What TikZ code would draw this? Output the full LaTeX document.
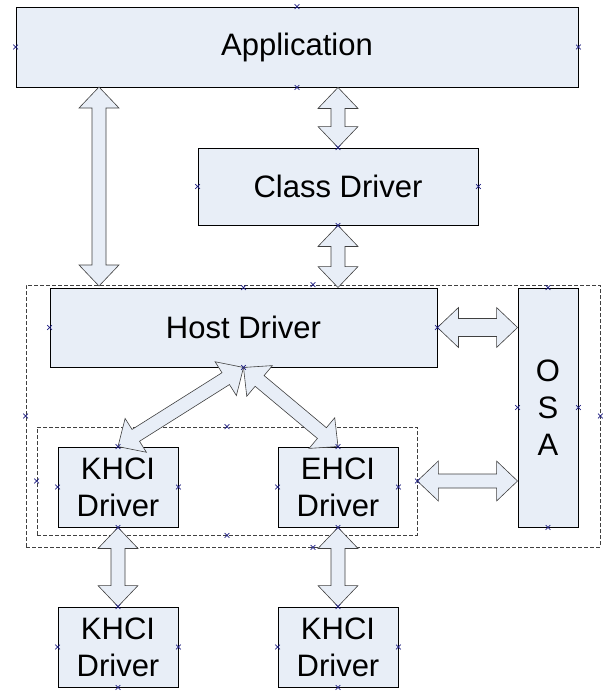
\documentclass[tikz,border=0pt]{standalone}
\usepackage{fontspec}
\setmainfont{Liberation Sans}
\usepackage{xcolor}
\usetikzlibrary{calc,shapes.misc}

\definecolor{boxfill}{RGB}{232,238,247}
\definecolor{cptblue}{RGB}{30,30,130}

\newcommand{\arrowhl}{21pt}
\newcommand{\arrowhw}{20pt}
% fat double arrow from #2 to #3, #1 = half shaft width
\newcommand{\dblarrow}[3][7pt]{%
  \draw[blockarrow]
    (#2) -- ($(#2)!\arrowhl!(#3)!\arrowhw!90:(#3)$)
    -- ($(#2)!\arrowhl!(#3)!#1!90:(#3)$)
    -- ($(#3)!\arrowhl!(#2)!#1!-90:(#2)$)
    -- ($(#3)!\arrowhl!(#2)!\arrowhw!-90:(#2)$)
    -- (#3)
    -- ($(#3)!\arrowhl!(#2)!\arrowhw!90:(#2)$)
    -- ($(#3)!\arrowhl!(#2)!#1!90:(#2)$)
    -- ($(#2)!\arrowhl!(#3)!#1!-90:(#3)$)
    -- ($(#2)!\arrowhl!(#3)!\arrowhw!-90:(#3)$)
    -- cycle;}

\tikzset{
  box/.style={draw, line width=0.9pt, fill=boxfill, align=center, inner sep=0pt,
    font=\fontsize{31}{37}\selectfont},
  group/.style={draw=black!75, line width=0.7pt, dash pattern=on 4pt off 2pt, inner sep=0pt},
  blockarrow/.style={draw=black!75, line width=0.6pt, fill=boxfill, line join=miter},
  cpt/.style={cross out, draw=cptblue, line width=0.7pt, minimum size=4pt, inner sep=0pt}
}

\begin{document}
\begin{tikzpicture}[x=1pt,y=-1pt]
\useasboundingbox (0,0) rectangle (611,694);

% dashed groups
\node[group, minimum width=574pt, minimum height=262pt] (outer) at (313,416) {};
\node[group, minimum width=380pt, minimum height=108pt] (inner) at (227,481) {};

% blocks
\node[box, minimum width=562pt, minimum height=80pt] (app) at (297,47) {Application};
\node[box, minimum width=280pt, minimum height=77pt] (class) at (338,186.5) {Class Driver};
\node[box, minimum width=387pt, minimum height=79pt] (host) at (243.5,327.5) {Host Driver};
\node[box, minimum width=60pt, minimum height=239pt] (osa) at (548,407.5) {O\\S\\A};
\node[box, minimum width=120pt, minimum height=80pt] (khci) at (118,487) {KHCI\\Driver};
\node[box, minimum width=120pt, minimum height=80pt] (ehci) at (338,487) {EHCI\\Driver};
\node[box, minimum width=120pt, minimum height=80pt] (khcib) at (118,647) {KHCI\\Driver};
\node[box, minimum width=120pt, minimum height=80pt] (ehcib) at (338,647) {KHCI\\Driver};

% arrows
\coordinate (appl) at (99,87);
\coordinate (hostl) at (99,286);
\coordinate (appc) at (app.south -| class.north);
\coordinate (hostc) at (host.north -| class.south);
\coordinate (osah) at (osa.west |- host.east);
\coordinate (osai) at (osa.west |- inner.east);
\dblarrow{appl}{hostl}
\dblarrow{appc}{class.north}
\dblarrow{class.south}{hostc}
\dblarrow[9pt]{host.east}{osah}
\dblarrow{inner.east}{osai}
\dblarrow{host.south}{khci.north}
\dblarrow{host.south}{ehci.north}
\dblarrow{khci.south}{khcib.north}
\dblarrow{ehci.south}{ehcib.north}

% connection points
\foreach \n in {app,class,host,osa,khci,ehci,khcib,ehcib,outer,inner}
  \foreach \a in {north,south,east,west}
    \node[cpt] (\n-\a) at (\n.\a) {};
\end{tikzpicture}
\end{document}
